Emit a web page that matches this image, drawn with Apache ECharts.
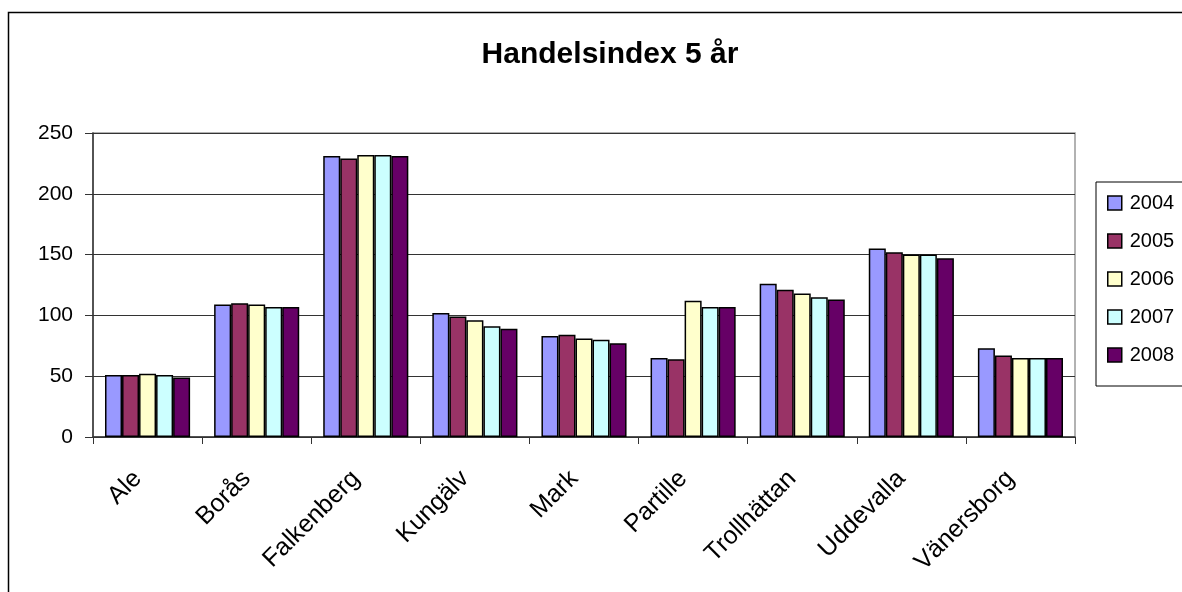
<!DOCTYPE html>
<html><head><meta charset="utf-8">
<script src="https://cdn.jsdelivr.net/npm/echarts@6/dist/echarts.min.js"></script>
<style>html,body{margin:0;padding:0;background:#fff}#c{width:1182px;height:592px}</style>
</head><body><div id="c"></div>
<script>
const categories = ['Ale','Borås','Falkenberg','Kungälv','Mark','Partille','Trollhättan','Uddevalla','Vänersborg'];
const years = ['2004','2005','2006','2007','2008'];
const v2004 = [51, 109, 231, 102, 83, 65, 126, 155, 73];
const v2005 = [51, 110, 229, 99, 84, 64, 121, 152, 67];
const v2006 = [52, 109, 232, 96, 81, 112, 118, 150, 65];
const v2007 = [51, 107, 232, 91, 80, 107, 115, 150, 65];
const v2008 = [49, 107, 231, 89, 77, 107, 113, 147, 65];
const colors = ['#9999FF','#993366','#FFFFCC','#CCFFFF','#660066'];
const values = [v2004, v2005, v2006, v2007, v2008];
const font = 'Arial, "Liberation Sans", sans-serif';

const chart = echarts.init(document.getElementById('c'), null, {renderer:'canvas'});
chart.setOption({
  animation:false,
  backgroundColor:'#fff',
  title:{text:'Handelsindex 5 år', left:605, top:35, textAlign:'center',
    textStyle:{fontFamily:font, fontSize:30, fontWeight:'bold', color:'#000'}},
  graphic:[{type:'rect', shape:{x:8.5,y:12.5,width:1200,height:620}, style:{fill:'none', stroke:'#000', lineWidth:1.5}, silent:true, z:-1}],
  legend:{orient:'vertical', left:1096, top:182, data:years, icon:'rect', itemWidth:14, itemHeight:14, itemGap:18,
    padding:[11,20,21,11], borderColor:'#000', borderWidth:1,
    textStyle:{fontFamily:font, fontSize:20, color:'#000', padding:[0,0,0,3]},
    itemStyle:{borderColor:'#000', borderWidth:1.5}},
  grid:{left:93, right:107, top:133, bottom:155, show:true, borderColor:'#999', borderWidth:1.5},
  xAxis:{type:'category', data:categories,
    axisLine:{lineStyle:{color:'#333', width:1.5}},
    axisTick:{show:true, length:7, lineStyle:{color:'#333'}},
    axisLabel:{rotate:45, fontFamily:font, fontSize:25, color:'#000', margin:28, padding:[0,14,0,0]}},
  yAxis:{type:'value', min:0, max:250, interval:50,
    axisLine:{show:true, lineStyle:{color:'#333', width:1.5}},
    axisTick:{show:true, length:8, lineStyle:{color:'#333'}},
    splitLine:{lineStyle:{color:'#333', width:1.2}},
    axisLabel:{fontFamily:font, fontSize:21, color:'#000', margin:20}},
  series: years.map((y,i)=>({name:y, type:'bar', data:values[i], barGap:'0%', barCategoryGap:'22%',
    itemStyle:{color:colors[i], borderColor:'#000', borderWidth:1.5}}))
});
</script></body></html>
